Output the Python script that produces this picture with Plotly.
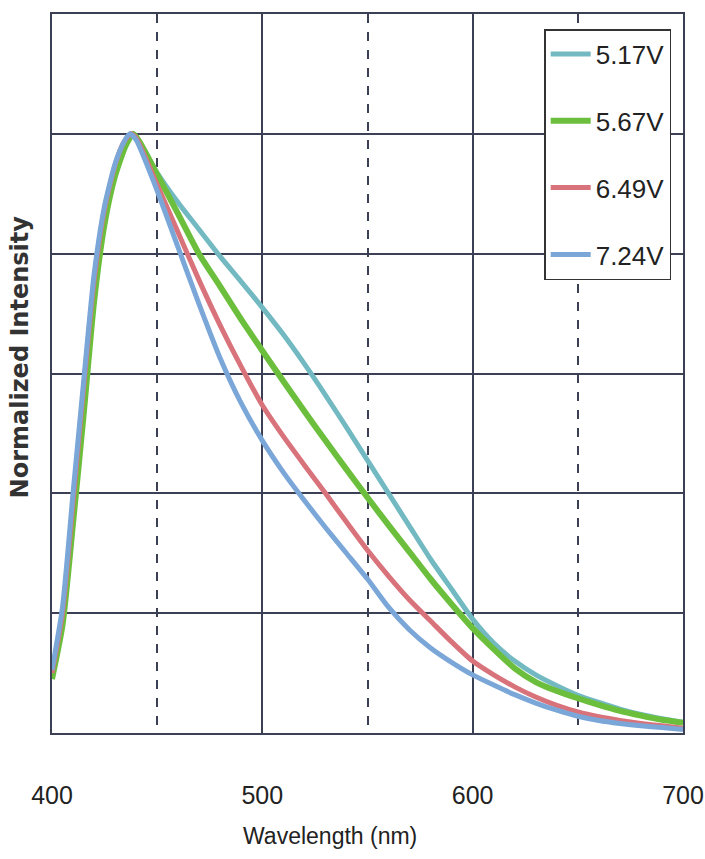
import plotly.graph_objects as go

# ---- data ----
labels = ["5.17V", "5.67V", "6.49V", "7.24V"]
colors = ["#72b9c2", "#6cbf3c", "#d9737b", "#7ba7d8"]
widths = [5, 6, 5, 5]

fall_wl = [450, 460, 470, 480, 490, 500, 510, 520, 530, 540, 550, 560, 570, 580, 590,
           600, 610, 620, 630, 640, 650, 660, 670, 680, 690, 700]

# 5.17V
wl_517 = [400, 405, 410, 415, 420, 425, 430, 435, 438.5, 441] + fall_wl
v_517 = [0.095, 0.185, 0.36, 0.545, 0.73, 0.86, 0.935, 0.982, 1.0, 0.99,
         0.935, 0.885, 0.84, 0.795, 0.753, 0.71, 0.665, 0.616, 0.564, 0.51, 0.455, 0.4, 0.345,
         0.29, 0.24, 0.19, 0.15, 0.12, 0.097, 0.079, 0.063, 0.051, 0.04, 0.031, 0.024, 0.018]

# 5.67V
wl_567 = [400, 405, 410, 415, 420, 425, 430, 435, 438.5, 441] + fall_wl
v_567 = [0.09, 0.18, 0.35, 0.53, 0.72, 0.85, 0.93, 0.98, 1.0, 0.99,
         0.932, 0.866, 0.799, 0.745, 0.69, 0.638, 0.587, 0.537, 0.488, 0.44, 0.393, 0.347, 0.302,
         0.257, 0.215, 0.175, 0.14, 0.108, 0.085, 0.07, 0.058, 0.047, 0.037, 0.029, 0.022, 0.017]

# 6.49V
wl_649 = [400, 405, 410, 415, 420, 425, 430, 434, 437.5, 440] + fall_wl
v_649 = [0.1, 0.2, 0.385, 0.575, 0.755, 0.875, 0.948, 0.985, 1.0, 0.993,
         0.915, 0.835, 0.755, 0.68, 0.611, 0.547, 0.495, 0.447, 0.4, 0.352, 0.305, 0.262, 0.222,
         0.187, 0.152, 0.12, 0.097, 0.077, 0.06, 0.046, 0.035, 0.027, 0.021, 0.016, 0.012, 0.008]

# 7.24V
wl_724 = [400, 405, 410, 415, 420, 425, 430, 434, 437, 440] + fall_wl
v_724 = [0.105, 0.21, 0.4, 0.585, 0.765, 0.88, 0.95, 0.985, 1.0, 0.99,
         0.905, 0.81, 0.715, 0.625, 0.55, 0.488, 0.435, 0.388, 0.343, 0.3, 0.257, 0.21, 0.172,
         0.142, 0.118, 0.097, 0.08, 0.064, 0.05, 0.038, 0.028, 0.021, 0.016, 0.012, 0.009, 0.006]

series_x = [wl_517, wl_567, wl_649, wl_724]
series_y = [v_517, v_567, v_649, v_724]

x_ticks = [400, 500, 600, 700]

GRID = "#3c4055"
TXT = "Liberation Sans, Arial, sans-serif"

fig = go.Figure()
for lab, col, w, xs, ys in zip(labels, colors, widths, series_x, series_y):
    fig.add_trace(go.Scatter(
        x=xs, y=ys, mode="lines", name=lab, legendgroup=lab,
        line=dict(color=col, width=w, shape="spline", smoothing=0.6),
    ))

fig.update_layout(
    width=705, height=859,
    margin=dict(l=52, r=22, t=14, b=126, autoexpand=False),
    paper_bgcolor="white", plot_bgcolor="white",
    showlegend=True,
    legend=dict(
        x=0.78, y=0.979, xanchor="left", yanchor="top",
        bgcolor="white", bordercolor="#333333", borderwidth=1.5,
        font=dict(family=TXT, size=26, color="#222222"),
        tracegroupgap=30, itemwidth=40,
    ),
    xaxis=dict(
        range=[400, 700], tickvals=x_ticks, ticktext=[str(t) for t in x_ticks],
        showgrid=True, gridcolor=GRID, gridwidth=1.5,
        minor=dict(dtick=50, showgrid=True, griddash="dash", gridcolor=GRID, gridwidth=1.5),
        showline=True, linecolor=GRID, linewidth=2, mirror=True,
        ticks="", ticklabelstandoff=39, automargin=False, ticklabeloverflow="allow",
        tickfont=dict(family=TXT, size=25, color="#222222"),
        zeroline=False,
    ),
    yaxis=dict(
        range=[0, 1.2], dtick=0.2, showticklabels=False,
        showgrid=True, gridcolor=GRID, gridwidth=2,
        showline=True, linecolor=GRID, linewidth=2, mirror=True,
        ticks="", zeroline=False, automargin=False,
    ),
    annotations=[
        dict(text="Wavelength (nm)", xref="paper", yref="paper", x=0.44, y=-0.143,
             xanchor="center", yanchor="middle", showarrow=False,
             font=dict(family=TXT, size=23, color="#222222")),
        dict(text="<b>Normalized Intensity</b>", xref="paper", yref="paper", x=-0.05, y=0.523,
             xanchor="center", yanchor="middle", textangle=-90, showarrow=False,
             font=dict(family="DejaVu Sans", size=24, color="#333333")),
    ],
)

fig.write_html("out.html")
